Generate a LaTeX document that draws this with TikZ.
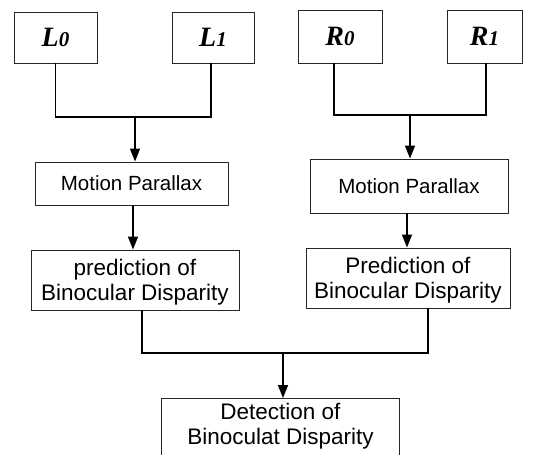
\documentclass[tikz,border=0pt]{standalone}
\usepackage{fontspec}
\setmainfont{Liberation Sans}
\newfontfamily\labfont{Liberation Serif}
\usetikzlibrary{arrows.meta}
\begin{document}
\begin{tikzpicture}[x=1pt,y=-1pt,
  box/.style={draw=black!85,line width=0.9pt,inner sep=0pt,align=center},
  inbox/.style={box,font=\labfont\fontsize{28}{30}\selectfont\bfseries\itshape},
  mpbox/.style={box,font=\fontsize{20.5}{24}\selectfont},
  prbox/.style={box,font=\fontsize{22.5}{25.5}\selectfont},
  con/.style={draw=black,line width=1.6pt},
  arr/.style={con,-{Triangle[length=13pt,width=10pt]}}]
\useasboundingbox (0,0) rectangle (541,455);
% inputs
\node[inbox,minimum width=83pt,minimum height=51pt] (L0) at (55.5,37.5) {L{\fontsize{21}{21}\selectfont 0}};
\node[inbox,minimum width=82pt,minimum height=51pt] (L1) at (213,37.5) {L{\fontsize{21}{21}\selectfont 1}};
\node[inbox,minimum width=84pt,minimum height=53pt] (R0) at (340,36.5) {R{\fontsize{21}{21}\selectfont 0}};
\node[inbox,minimum width=75pt,minimum height=53pt] (R1) at (484.5,36.5) {R{\fontsize{21}{21}\selectfont 1}};
% motion parallax
\node[mpbox,minimum width=193pt,minimum height=43pt] (mpl) at (131.5,183.5) {Motion Parallax};
\node[mpbox,minimum width=198pt,minimum height=54pt] (mpr) at (409,186) {Motion Parallax};
% prediction
\node[prbox,minimum width=208pt,minimum height=60pt] (pl) at (135,280) {\rule{0pt}{21pt}prediction of\\Binocular Disparity};
\node[prbox,minimum width=204pt,minimum height=60pt] (pr) at (408,278) {\rule{0pt}{21pt}Prediction of\\Binocular Disparity};
% detection
\node[prbox,minimum width=238pt,minimum height=64pt,anchor=north] (det) at (280.5,398) {\rule{0pt}{21pt}Detection of\\Binoculat Disparity\rule[-18pt]{0pt}{18pt}};
% junctions
\coordinate (jl) at (135,117);
\coordinate (jr) at (410,115);
\coordinate (jd) at (283,353);
\draw[con] (L0.south) -- (L0.south |- jl) -- ([xshift=-2pt]L1.south |- jl) -- ([xshift=-2pt]L1.south);
\draw[con] ([xshift=-6pt]R0.south) -- ([xshift=-6pt]R0.south |- jr) -- ([xshift=1.5pt]R1.south |- jr) -- ([xshift=1.5pt]R1.south);
\draw[arr] (jl) -- (jl |- mpl.north);
\draw[arr] (jr) -- (jr |- mpr.north);
\draw[arr] ([xshift=1.5pt]mpl.south) -- ([xshift=1.5pt]mpl.south |- pl.north);
\draw[arr] ([xshift=-2pt]mpr.south) -- ([xshift=-2pt]mpr.south |- pr.north);
\draw[con] ([xshift=7pt]pl.south) -- ([xshift=7pt]pl.south |- jd) -- ([xshift=20pt]pr.south |- jd) -- ([xshift=20pt]pr.south);
\draw[arr] (jd) -- (jd |- det.north);
\end{tikzpicture}
\end{document}
